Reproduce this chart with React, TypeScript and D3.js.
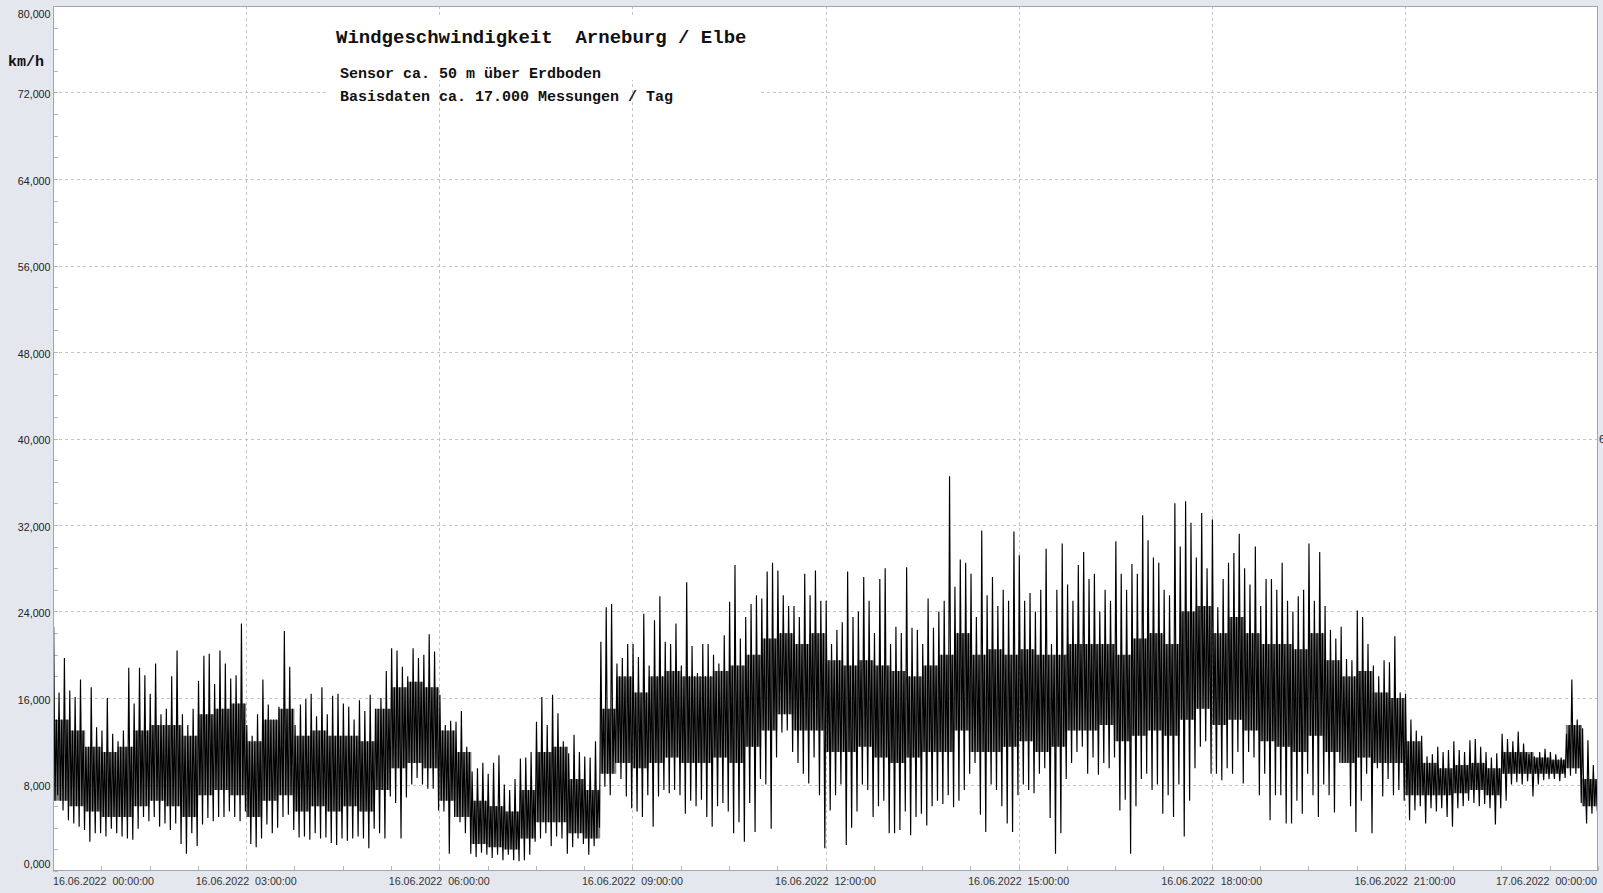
import React from 'react';
import * as d3 from 'd3';

// ---------- data (km/h) ----------
// 5-minute buckets over 16.06.2022 00:00 – 17.06.2022 00:00: peak high / peak low
const peakHigh: number[] = [
  22.6, 16.5, 19.7, 16.7, 16.1, 17.7, 11.5, 17.0, 13.3, 13.0, 16.0, 12.7,
  12.0, 13.0, 18.8, 15.5, 18.8, 18.1, 16.4, 19.2, 14.5, 15.0, 18.0, 20.4,
  14.5, 13.5, 15.0, 17.6, 19.9, 20.1, 17.3, 20.4, 19.2, 17.8, 18.1, 22.9,
  13.5, 12.5, 14.5, 17.7, 15.4, 14.0, 15.2, 22.2, 18.9, 13.5, 15.4, 15.9,
  16.4, 14.3, 17.0, 14.5, 16.2, 16.4, 15.5, 15.2, 14.0, 15.8, 14.8, 16.3,
  15.0, 16.0, 18.5, 20.6, 20.4, 18.9, 18.0, 20.6, 19.7, 20.0, 21.9, 20.3,
  16.3, 13.5, 13.9, 13.8, 14.8, 11.5, 9.2, 9.5, 10.0, 9.0, 10.0, 10.7,
  8.0, 7.5, 8.5, 10.4, 10.5, 11.0, 13.8, 16.1, 13.5, 16.3, 14.6, 12.0,
  10.9, 12.6, 11.0, 10.6, 10.5, 12.0, 21.2, 24.4, 24.7, 19.2, 19.7, 21.0,
  21.0, 19.8, 23.8, 19.0, 23.2, 25.4, 21.2, 21.0, 22.9, 19.0, 26.7, 20.8,
  18.3, 21.0, 21.0, 20.0, 19.2, 21.8, 24.9, 28.3, 21.5, 23.5, 24.7, 25.5,
  25.2, 27.7, 28.5, 27.8, 25.5, 24.5, 24.5, 23.5, 27.5, 25.5, 27.8, 25.0,
  25.0, 21.0, 22.3, 23.0, 27.7, 23.5, 24.0, 27.2, 25.0, 22.0, 27.0, 28.0,
  21.0, 22.6, 22.0, 28.1, 22.5, 22.3, 21.0, 25.2, 22.5, 24.0, 25.0, 36.5,
  26.3, 28.8, 28.5, 27.5, 23.5, 31.5, 25.5, 27.2, 24.5, 26.0, 25.0, 31.4,
  29.2, 25.0, 25.7, 24.0, 26.0, 29.8, 21.0, 26.0, 30.3, 26.5, 25.0, 28.3,
  29.5, 27.0, 27.5, 24.0, 26.0, 25.0, 30.5, 27.5, 26.0, 28.4, 27.5, 32.9,
  30.6, 29.0, 28.5, 26.0, 25.5, 34.0, 30.0, 34.2, 32.2, 29.0, 33.1, 28.0,
  32.5, 24.4, 27.0, 28.5, 29.4, 31.2, 28.0, 26.5, 30.0, 24.5, 27.0, 27.0,
  26.0, 28.5, 25.0, 24.0, 25.4, 26.0, 30.3, 25.0, 29.5, 24.5, 22.3, 21.5,
  22.6, 19.6, 19.5, 24.1, 23.5, 21.0, 19.0, 18.0, 19.5, 19.3, 21.7, 16.5,
  16.4, 14.0, 13.0, 12.5, 10.6, 10.8, 11.5, 11.0, 11.2, 12.0, 11.2, 11.0,
  12.1, 12.2, 11.5, 11.0, 10.5, 10.9, 12.7, 12.2, 12.0, 12.9, 11.8, 10.8,
  10.6, 11.0, 11.3, 11.0, 10.8, 10.5, 12.7, 17.7, 14.0, 13.2, 12.1, 9.8,
];
const peakLow: number[] = [
  7.0, 5.6, 4.7, 4.4, 4.1, 3.8, 2.7, 3.5, 3.5, 3.2, 3.9, 3.5,
  3.2, 3.0, 2.9, 3.9, 5.0, 4.6, 5.0, 4.1, 4.4, 3.8, 4.4, 2.5,
  1.6, 3.5, 2.3, 4.3, 4.9, 4.6, 5.0, 5.0, 5.5, 5.0, 4.6, 5.5,
  2.5, 2.2, 3.0, 4.3, 3.5, 4.0, 5.0, 5.2, 3.8, 3.1, 3.2, 2.9,
  3.5, 3.0, 3.1, 2.6, 2.4, 3.0, 2.8, 3.0, 3.2, 3.0, 2.1, 3.9,
  3.5, 3.0, 6.9, 6.3, 3.0, 6.8, 8.0, 8.6, 8.0, 7.6, 7.6, 5.6,
  5.5, 1.6, 5.0, 4.5, 3.5, 1.6, 1.3, 1.7, 1.5, 1.2, 1.5, 1.0,
  1.5, 1.0, 0.9, 1.0, 1.5, 2.7, 3.0, 3.5, 2.3, 3.2, 3.0, 1.6,
  2.2, 3.0, 2.5, 1.5, 2.3, 4.0, 7.8, 7.0, 10.0, 8.5, 6.9, 5.8,
  5.5, 5.0, 7.0, 4.1, 6.9, 7.5, 7.2, 7.5, 7.0, 5.3, 6.5, 6.0,
  6.6, 5.0, 4.1, 6.0, 6.3, 5.5, 3.5, 4.5, 2.7, 6.3, 3.6, 8.5,
  8.0, 3.9, 10.5, 12.8, 13.0, 11.0, 10.0, 9.0, 8.1, 10.5, 7.0, 2.1,
  5.6, 7.0, 8.0, 2.4, 4.0, 5.5, 8.0, 7.5, 5.0, 6.0, 6.5, 3.5,
  3.5, 3.8, 5.5, 3.3, 5.0, 5.3, 4.2, 6.0, 6.5, 6.2, 7.0, 5.9,
  6.5, 7.5, 9.0, 10.0, 5.2, 3.6, 8.0, 7.5, 6.0, 4.4, 3.6, 7.0,
  8.0, 7.5, 7.2, 9.0, 9.5, 4.9, 1.6, 3.5, 8.5, 10.0, 11.0, 11.5,
  9.0, 10.5, 8.9, 10.0, 9.5, 10.5, 5.6, 6.6, 1.6, 6.0, 8.5, 9.0,
  7.5, 8.0, 5.3, 7.0, 5.0, 8.0, 3.2, 6.5, 9.5, 11.5, 12.0, 9.0,
  9.0, 8.4, 9.5, 9.0, 11.0, 8.1, 11.0, 10.5, 7.0, 9.0, 4.7, 7.0,
  7.0, 4.4, 4.4, 6.5, 5.3, 9.0, 7.0, 5.0, 8.0, 7.0, 5.4, 10.0,
  10.0, 6.0, 3.6, 6.5, 9.0, 3.5, 9.5, 6.9, 8.5, 7.0, 7.5, 6.5,
  4.7, 5.6, 6.0, 4.4, 5.8, 5.5, 5.8, 5.0, 4.1, 5.8, 6.0, 6.5,
  6.3, 6.0, 6.2, 5.8, 4.3, 5.8, 6.5, 8.0, 8.2, 8.0, 8.3, 6.9,
  8.0, 8.4, 8.5, 8.5, 8.3, 8.6, 8.8, 9.0, 6.3, 4.4, 5.3, 5.5,
];
// 15-minute dense core of the measurements (upper / lower edge)
const coreHigh: number[] = [
  14.0, 13.0, 11.5, 11.0, 11.5, 13.0, 13.5, 13.5, 12.5, 14.5, 15.0, 15.5,
  12.0, 14.0, 15.0, 12.5, 13.0, 12.5, 12.5, 12.0, 15.0, 17.0, 17.5, 17.0,
  13.0, 11.0, 6.5, 6.0, 5.5, 7.5, 11.0, 11.5, 8.5, 7.5, 15.0, 18.0,
  16.5, 18.0, 18.5, 18.0, 18.0, 18.5, 19.0, 20.0, 21.5, 22.0, 21.0, 22.0,
  19.5, 19.0, 19.5, 19.0, 18.5, 18.0, 19.0, 20.0, 22.0, 20.0, 20.5, 20.0,
  20.5, 20.0, 20.0, 21.0, 21.0, 21.0, 20.0, 21.5, 22.0, 21.0, 24.0, 24.5,
  22.0, 23.5, 22.0, 21.0, 21.0, 20.5, 22.0, 19.5, 18.0, 18.5, 16.5, 16.0,
  12.0, 10.0, 9.5, 9.8, 10.0, 9.5, 11.0, 11.0, 10.5, 10.3, 13.5, 8.5,
];
const coreLow: number[] = [
  6.5, 6.0, 5.5, 5.0, 5.0, 6.0, 6.5, 6.0, 5.0, 7.0, 7.5, 7.0,
  5.0, 6.5, 7.0, 5.5, 6.0, 5.5, 6.0, 5.5, 7.5, 9.5, 10.0, 9.5,
  6.5, 5.0, 2.5, 2.2, 2.0, 3.0, 4.5, 4.5, 3.5, 3.0, 9.0, 10.0,
  9.5, 10.0, 10.5, 10.0, 10.0, 10.5, 10.0, 11.5, 13.0, 14.5, 13.0, 13.0,
  11.0, 11.0, 11.5, 10.5, 10.0, 10.5, 11.0, 11.0, 13.0, 11.0, 11.0, 11.5,
  12.0, 11.0, 11.5, 13.0, 13.0, 13.5, 12.0, 12.5, 13.0, 12.5, 14.0, 15.0,
  13.5, 14.0, 13.0, 12.0, 11.5, 11.0, 12.5, 11.0, 10.0, 10.5, 10.0, 10.0,
  7.0, 7.0, 7.0, 7.2, 7.5, 7.0, 9.0, 9.0, 9.0, 9.0, 9.5, 6.0,
];
const bucketMinutes = 5;
const coreMinutes = 15;

const yTickValues: number[] = [0, 8, 16, 24, 32, 40, 48, 56, 64, 72, 80];
const xTickHours: number[] = [0, 3, 6, 9, 12, 15, 18, 21, 24];
const xTickLabels: string[] = [
  '16.06.2022  00:00:00', '16.06.2022  03:00:00', '16.06.2022  06:00:00',
  '16.06.2022  09:00:00', '16.06.2022  12:00:00', '16.06.2022  15:00:00',
  '16.06.2022  18:00:00', '16.06.2022  21:00:00', '17.06.2022  00:00:00',
];
const titleText = 'Windgeschwindigkeit  Arneburg / Elbe';
const subtitleLines: string[] = ['Sensor ca. 50 m über Erdboden', 'Basisdaten ca. 17.000 Messungen / Tag'];
const unitText = 'km/h';

// ---------- layout ----------
const W = 1603;
const H = 893;
const PL = 53, PR = 1598, PT = 6, PB = 871;
const BG = '#e4e7ee';
const GRID = '#c4c4c4';
const AXIS = '#a3a6ad';
const MONO = '"Liberation Mono", "Courier New", monospace';
const SANS = '"Liberation Sans", Arial, sans-serif';

export default function App() {
  const x = d3.scaleLinear().domain([0, 24 * 60]).range([PL, PR]);
  const y = d3.scaleLinear().domain([0, 80]).range([PB, PT]);

  // zig-zag through each bucket: peak high -> core low -> core high -> peak low
  const perCore = coreMinutes / bucketMinutes;
  const linePts: [number, number][] = [];
  peakHigh.forEach((h, i) => {
    const q = Math.floor(i / perCore);
    const t0 = i * bucketMinutes;
    linePts.push([t0 + bucketMinutes * 0.125, h]);
    linePts.push([t0 + bucketMinutes * 0.375, coreLow[q]]);
    linePts.push([t0 + bucketMinutes * 0.625, coreHigh[q]]);
    linePts.push([t0 + bucketMinutes * 0.875, peakLow[i]]);
  });
  const lineGen = d3.line<[number, number]>().x(d => x(d[0])).y(d => y(d[1]));
  const coreIdx = d3.range(coreHigh.length + 1);
  const coreArea = d3
    .area<number>()
    .curve(d3.curveStepAfter)
    .x(i => x(i * coreMinutes))
    .y0(i => y(coreLow[Math.min(i, coreLow.length - 1)]))
    .y1(i => y(coreHigh[Math.min(i, coreHigh.length - 1)]));

  const minorY = d3.range(0, 80.001, 2);
  const minorX = d3.range(0, 24 * 60 + 0.1, 45);
  const fmt = (v: number) => v.toFixed(3).replace('.', ',');

  return (
    <svg width={W} height={H} style={{ position: 'absolute', left: 0, top: 0 }} xmlns="http://www.w3.org/2000/svg">
      <defs>
        <clipPath id="plotClip">
          <rect x={PL} y={PT} width={PR - PL} height={PB - PT} />
        </clipPath>
      </defs>
      <rect x={0} y={0} width={W} height={H} fill={BG} />
      <rect x={PL} y={PT} width={PR - PL} height={PB - PT} fill="#fff" />

      {/* horizontal gridlines */}
      {yTickValues.slice(1, -1).map(v => (
        <line key={'hg' + v} x1={PL} x2={PR} y1={Math.round(y(v)) + 0.5} y2={Math.round(y(v)) + 0.5} stroke={GRID} strokeDasharray="3,3" />
      ))}
      {/* subtitle box (hides horizontal grid) */}
      <rect x={328} y={82} width={432} height={18} fill="#fff" />
      {/* vertical gridlines */}
      {xTickHours.slice(1, -1).map(h => (
        <line key={'vg' + h} x1={Math.round(x(h * 60)) + 0.5} x2={Math.round(x(h * 60)) + 0.5} y1={PT} y2={PB} stroke={GRID} strokeDasharray="3,3" />
      ))}
      {/* title box */}
      <rect x={328} y={17} width={432} height={63} fill="#fff" />

      {/* minor ticks */}
      {minorY.map(v => (
        <line key={'my' + v} x1={PL} x2={PL + 5} y1={Math.round(y(v)) + 0.5} y2={Math.round(y(v)) + 0.5} stroke="#b8b8b8" />
      ))}
      {minorX.map(m => (
        <line key={'mx' + m} x1={Math.round(x(m)) + 0.5} x2={Math.round(x(m)) + 0.5} y1={PB - 5} y2={PB} stroke="#b8b8b8" />
      ))}

      {/* data */}
      <g clipPath="url(#plotClip)">
        <path d={coreArea(coreIdx) || ''} fill="#000" fillOpacity={0.5} />
        <path d={lineGen(linePts) || ''} fill="none" stroke="#000" strokeWidth={1.15} strokeLinejoin="miter" strokeMiterlimit={2} />
      </g>

      {/* frame */}
      <rect x={PL + 0.5} y={PT + 0.5} width={PR - PL - 1} height={PB - PT - 1} fill="none" stroke={AXIS} />

      {/* y labels */}
      {yTickValues.map(v => {
        let cy = y(v) + 2;
        if (v === 80) cy = PT + 8.5;
        if (v === 0) cy = PB - 7.3;
        return (
          <text key={'yl' + v} x={50.5} y={cy + 3.8} textAnchor="end" fontFamily={SANS} fontSize={10.7} fill="#222">
            {fmt(v)}
          </text>
        );
      })}
      <text x={1599} y={443} fontFamily={SANS} fontSize={10.7} fill="#222">6</text>

      {/* x labels */}
      {xTickHours.map((h, i) => {
        const px = x(h * 60);
        let anchor: 'start' | 'middle' | 'end' = 'middle';
        let tx = px;
        if (i === 0) { anchor = 'start'; tx = PL; }
        if (i === xTickHours.length - 1) { anchor = 'end'; tx = PR - 1; }
        return (
          <text key={'xl' + h} x={tx} y={885} textAnchor={anchor} fontFamily={SANS} fontSize={11} fill="#333"
            textLength={101} lengthAdjust="spacingAndGlyphs" style={{ whiteSpace: 'pre' }}>
            {xTickLabels[i]}
          </text>
        );
      })}

      {/* unit */}
      <text x={8} y={66} fontFamily={MONO} fontWeight="bold" fontSize={15} fill="#111">{unitText}</text>

      {/* title */}
      <text x={336} y={43} fontFamily={MONO} fontWeight="bold" fontSize={19} fill="#111" style={{ whiteSpace: 'pre' }}>{titleText}</text>
      {subtitleLines.map((s, i) => (
        <text key={'st' + i} x={340} y={78 + i * 23} fontFamily={MONO} fontWeight="bold" fontSize={15} fill="#111" style={{ whiteSpace: 'pre' }}>{s}</text>
      ))}
    </svg>
  );
}
